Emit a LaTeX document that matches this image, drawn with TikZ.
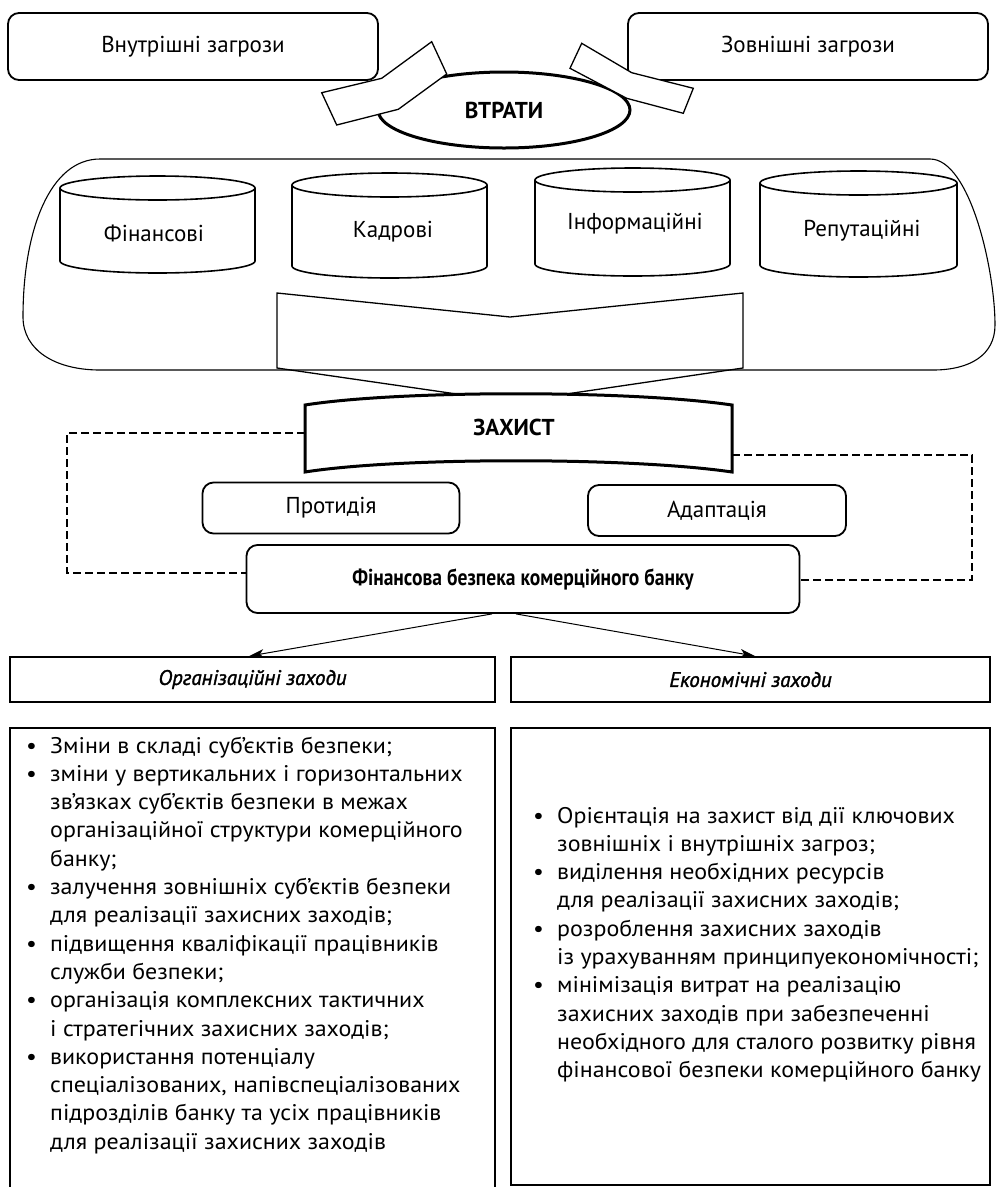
\documentclass[tikz,border=0pt]{standalone}
\usepackage{fontspec}
\setmainfont{PT Sans}
\newfontfamily\bodyfont[FakeStretch=1.06]{PT Sans}
\newfontfamily\hdrfont[FakeBold=1.5,ItalicFeatures={FakeBold=1.5}]{PT Sans}
\usetikzlibrary{arrows.meta,shapes.geometric,calc}
\newcommand\bitem{\makebox[24pt][l]{•}}
\newcommand\bcont{\hspace*{24pt}}
\begin{document}
\begin{tikzpicture}[x=1pt,y=1pt,
  rbox/.style={draw, line width=1.8pt, rounded corners=11pt, inner sep=0pt, font=\fontsize{23}{28}\selectfont},
  sqbox/.style={draw, line width=1.8pt, inner sep=0pt},
  cylline/.style={line width=1.6pt},
  thinline/.style={line width=1.1pt},
  strip/.style={draw, line width=1.3pt, fill=white, line join=miter},
  dsh/.style={line width=2.8pt, dash pattern=on 8pt off 4pt},
  arr/.style={line width=1pt, -{Stealth[length=15pt,width=9pt,inset=4pt]}},
  lbl/.style={font=\fontsize{23}{28}\selectfont, inner sep=0pt},
  bold/.style={font=\fontsize{23}{28}\selectfont\bfseries, inner sep=0pt},
  hdr/.style={font=\hdrfont\fontsize{21}{26}\selectfont\itshape},
  body/.style={font=\bodyfont\fontsize{22.6}{28.3}\selectfont, align=left, inner sep=0pt, anchor=base west},
]
\useasboundingbox (0,0) rectangle (997,-1187);

% threats
\node[rbox, minimum width=370pt, minimum height=67pt] (inner) at (193,-46.5) {Внутрішні загрози};
\node[rbox, minimum width=360pt, minimum height=67pt] (outer) at (808,-46.5) {Зовнішні загрози};

% losses
\node[ellipse, draw, line width=3pt, minimum width=252pt, minimum height=76pt, inner sep=0pt, font=\fontsize{23}{28}\selectfont\bfseries] (vtraty) at (504,-110) {ВТРАТИ};
\draw[strip] (321.7,-92.7) -- (381.7,-78.3) -- (431.7,-41.7) -- (446.7,-74) -- (398.3,-109.3) -- (336.7,-125) -- cycle;
\draw[strip] (581.7,-43.3) -- (631.7,-72.7) -- (693.3,-88.3) -- (683.3,-113.3) -- (626.7,-98.3) -- (570,-68.3) -- cycle;

% container
\draw[thinline] (100,-159) -- (930,-159) .. controls (970,-159) and (995,-270) .. (995,-325) .. controls (995,-355) and (970,-370) .. (933,-370) -- (100,-370) .. controls (55,-370) and (23,-350) .. (23,-317) .. controls (23,-230) and (50,-159) .. (100,-159) -- cycle;

% cylinders
\draw[cylline] (60,-188) -- (60,-261) arc[start angle=180, end angle=360, x radius=97.5, y radius=12] -- (255,-188);
\draw[cylline] (157.5,-188) ellipse[x radius=97.5, y radius=12];
\draw[cylline] (292,-185) -- (292,-266) arc[start angle=180, end angle=360, x radius=97.5, y radius=12] -- (487,-185);
\draw[cylline] (389.5,-185) ellipse[x radius=97.5, y radius=12];
\draw[cylline] (535,-180) -- (535,-264) arc[start angle=180, end angle=360, x radius=97.5, y radius=12] -- (730,-180);
\draw[cylline] (632.5,-180) ellipse[x radius=97.5, y radius=12];
\draw[cylline] (760,-183) -- (760,-265) arc[start angle=180, end angle=360, x radius=98.5, y radius=12] -- (957,-183);
\draw[cylline] (858.5,-183) ellipse[x radius=98.5, y radius=12];
\node[lbl] (c1) at (154,-233) {Фінансові};
\node[lbl] (c2) at (393,-232) {Кадрові};
\node[lbl] (c3) at (635,-224) {Інформаційні};
\node[lbl] (c4) at (862,-231) {Репутаційні};

% big arrow
\draw[line width=1.3pt] (277,-293) -- (510,-317) -- (743,-293) -- (743,-368) -- (512,-402) -- (277,-368) -- cycle;

% protection banner
\draw[line width=3pt, fill=white] (305,-405) .. controls (400,-390) and (630,-390) .. (732,-405) -- (732,-472) .. controls (630,-457) and (400,-457) .. (305,-472) -- cycle;
\node[bold] (zakhyst) at (514,-427) {ЗАХИСТ};
\coordinate (zl) at (305,-433);
\coordinate (zr) at (732,-455);

\node[rbox, minimum width=257pt, minimum height=51pt] (prot) at (331,-508) {Протидія};
\node[rbox, minimum width=258pt, minimum height=51pt] (adapt) at (717,-510.5) {Адаптація};
\node[rbox, minimum width=553pt, minimum height=68pt, font=\fontsize{23}{28}\selectfont\bfseries] (fin) at (523,-579) {\scalebox{0.85}[1]{Фінансова безпека комерційного банку}};

% dashed feedback
\coordinate (dl1) at (67,-433);
\coordinate (dl2) at (67,-573);
\coordinate (dr1) at (972,-455);
\coordinate (dr2) at (972,-580);
\draw[dsh] (zl) -- (dl1) -- (dl2) -- (dl2 -| fin.west);
\draw[dsh] (zr) -- (dr1) -- (dr2) -- (dr2 -| fin.east);

% measures
\node[sqbox, minimum width=485pt, minimum height=45pt, hdr] (orghdr) at (252.5,-679.5) {Організаційні заходи};
\node[sqbox, minimum width=479pt, minimum height=45pt, hdr] (ekhdr) at (750.5,-679.5) {Економічні заходи};
\draw[arr] ([xshift=-31pt]fin.south) -- ([xshift=240pt]orghdr.north west);
\draw[arr] ([xshift=-7pt]fin.south) -- ([xshift=245pt]ekhdr.north west);

\draw[line width=1.8pt] (10,-1195) -- (10,-728) -- (495,-728) -- (495,-1195);
\node[sqbox, minimum width=479pt, minimum height=457pt] (ekbox) at (750.5,-956.5) {};

\node[body] (orgtext) at (26,-1149.2) {\bitem Зміни в складі суб’єктів безпеки;\\
\bitem зміни у вертикальних і горизонтальних\\
\bcont зв’язках суб’єктів безпеки в межах\\
\bcont організаційної структури комерційного\\
\bcont банку;\\
\bitem залучення зовнішніх суб’єктів безпеки\\
\bcont для реалізації захисних заходів;\\
\bitem підвищення кваліфікації працівників\\
\bcont служби безпеки;\\
\bitem організація комплексних тактичних\\
\bcont і стратегічних захисних заходів;\\
\bitem використання потенціалу\\
\bcont спеціалізованих, напівспеціалізованих\\
\bcont підрозділів банку та усіх працівників\\
\bcont для реалізації захисних заходів};

\node[body] (ektext) at (533,-1077.7) {\bitem Орієнтація на захист від дії ключових\\
\bcont зовнішніх і внутрішніх загроз;\\
\bitem виділення необхідних ресурсів\\
\bcont для реалізації захисних заходів;\\
\bitem розроблення захисних заходів\\
\bcont із урахуванням принципуекономічності;\\
\bitem мінімізація витрат на реалізацію\\
\bcont захисних заходів при забезпеченні\\
\bcont необхідного для сталого розвитку рівня\\
\bcont фінансової безпеки комерційного банку};
\end{tikzpicture}
\end{document}
